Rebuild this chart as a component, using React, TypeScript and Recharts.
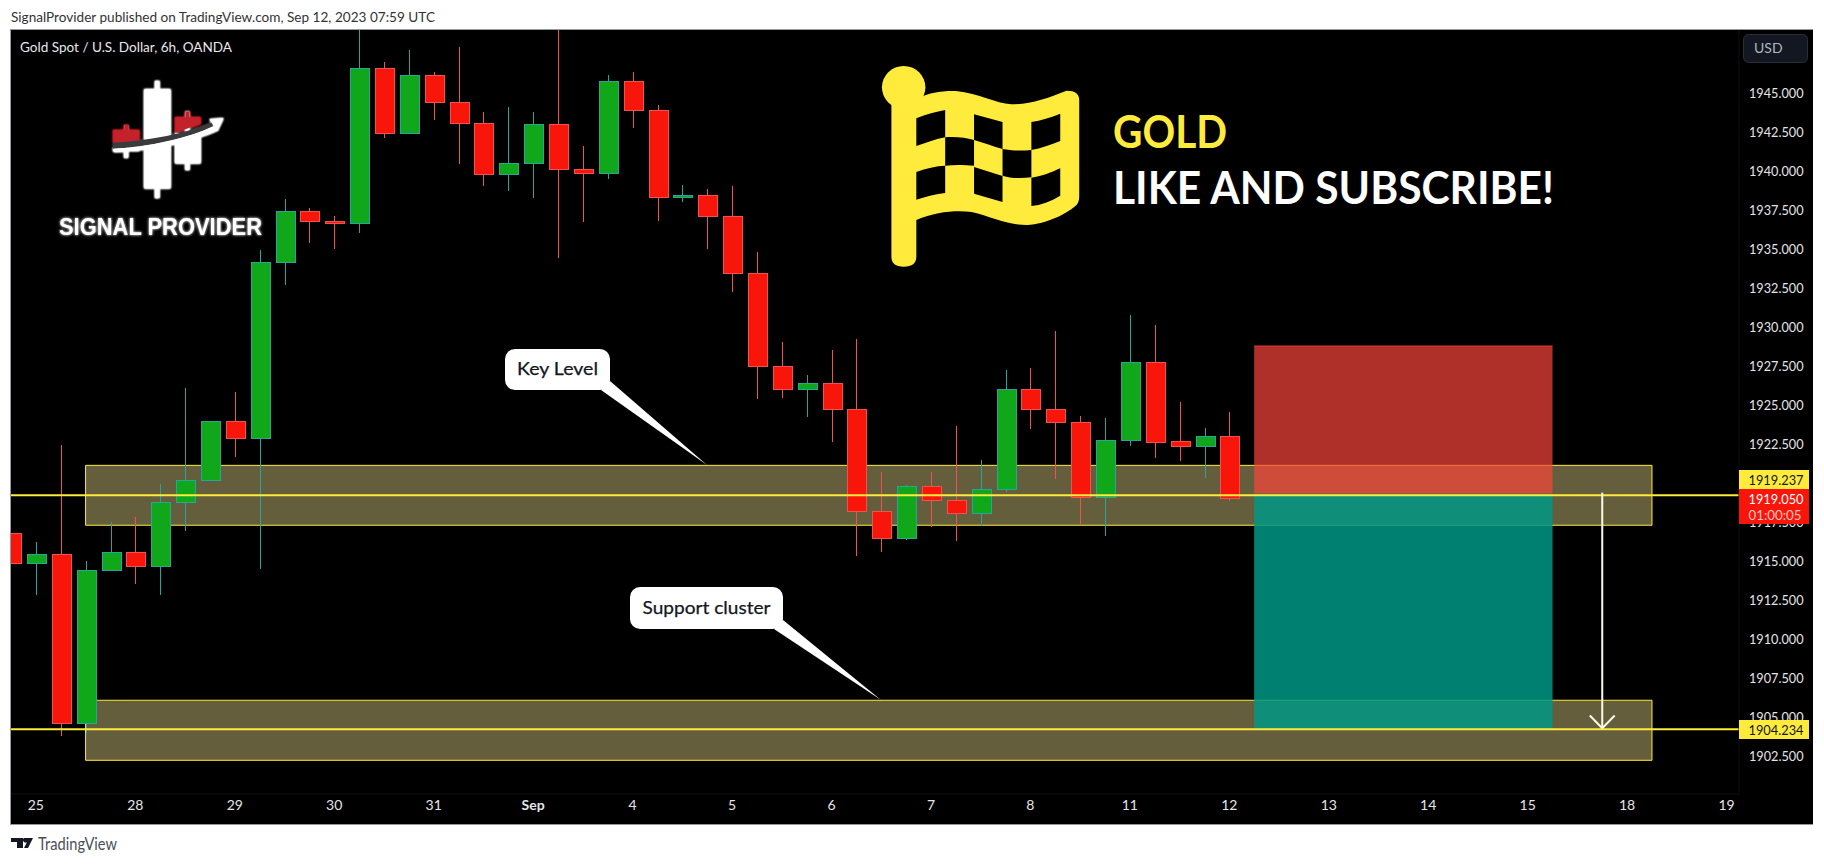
/**
 * XAUUSD 6h candlestick snapshot with key levels and a short position box.
 * Candles are Bars on a numeric index axis; the shape splits body and wick.
 */

import {
  Bar,
  ComposedChart,
  ReferenceArea,
  ReferenceLine,
  XAxis,
  YAxis,
} from 'recharts'

const opens = [
  1916.8, 1914.85, 1915.45, 1904.59, 1914.4, 1915.58, 1914.65, 1918.76, 1920.17, 1923.97,
  1922.86, 1934.14, 1937.44, 1936.8, 1936.64, 1946.6, 1942.41, 1946.15, 1944.42, 1943.08,
  1939.78, 1940.49, 1943.01, 1940.13, 1939.85, 1945.77, 1943.91, 1938.31, 1938.46, 1937.12,
  1933.46, 1927.5, 1926.0, 1926.41, 1924.74, 1918.21, 1916.45, 1919.81, 1918.91, 1918.08,
  1919.62, 1926.03, 1924.74, 1923.91, 1919.1, 1922.73, 1927.76, 1922.65, 1922.35, 1923.01,
]
const highs = [
  1916.8, 1916.24, 1922.44, 1915.0, 1917.52, 1917.84, 1919.96, 1926.09, 1923.97, 1925.83,
  1934.94, 1938.21, 1937.63, 1937.14, 1949.05, 1947.01, 1947.78, 1946.37, 1947.97, 1943.8,
  1944.12, 1943.8, 1949.05, 1941.62, 1946.17, 1946.37, 1944.25, 1939.12, 1938.85, 1939.06,
  1934.83, 1929.06, 1926.94, 1928.55, 1929.25, 1920.72, 1919.91, 1920.72, 1923.67, 1921.47,
  1927.26, 1927.39, 1929.76, 1924.31, 1924.17, 1930.79, 1930.15, 1925.21, 1923.55, 1924.55,
]
const lows = [
  1914.85, 1912.84, 1903.8, 1903.99, 1914.4, 1913.55, 1912.84, 1916.96, 1920.17, 1921.69,
  1914.53, 1932.71, 1935.4, 1935.02, 1936.05, 1942.15, 1942.41, 1943.29, 1940.47, 1939.06,
  1938.74, 1938.29, 1934.44, 1936.75, 1939.51, 1942.78, 1936.81, 1938.03, 1935.02, 1932.26,
  1925.4, 1925.47, 1924.25, 1922.65, 1915.34, 1915.6, 1916.37, 1917.2, 1916.3, 1917.26,
  1919.44, 1923.48, 1920.3, 1917.39, 1916.62, 1922.39, 1921.62, 1921.43, 1920.34, 1918.88,
]
const closes = [
  1914.85, 1915.45, 1904.59, 1914.42, 1915.58, 1914.65, 1918.78, 1920.19, 1923.97, 1922.86,
  1934.17, 1937.44, 1936.77, 1936.67, 1946.6, 1942.41, 1946.15, 1944.4, 1943.05, 1939.78,
  1940.51, 1943.01, 1940.1, 1939.85, 1945.77, 1943.89, 1938.31, 1938.46, 1937.09, 1933.44,
  1927.47, 1926.0, 1926.41, 1924.72, 1918.21, 1916.45, 1919.81, 1918.88, 1918.08, 1919.62,
  1926.03, 1924.72, 1923.88, 1919.1, 1922.76, 1927.76, 1922.6, 1922.35, 1923.01, 1919.01,
]

const dayTicks = [1, 5, 9, 13, 17, 21, 25, 29, 33, 37, 41, 45, 49, 53, 57, 61, 65, 69]
const dayLabels = ['25', '28', '29', '30', '31', 'Sep', '4', '5', '6', '7', '8', '11', '12', '13', '14', '15', '18', '19']
const priceTicks = [
  1902.5, 1905, 1907.5, 1910, 1912.5, 1915, 1917.5, 1920, 1922.5, 1925, 1927.5, 1930, 1932.5,
  1935, 1937.5, 1940, 1942.5, 1945,
]

// horizontal levels and zones, in price
const keyLevels = [1919.237, 1904.234]
const zones = [
  { top: 1921.15, bottom: 1917.31 },
  { top: 1906.09, bottom: 1902.24 },
]
const zoneStart = 3
const zoneEnd = 66
const positionStart = 50
const positionEnd = 62
const stopPrice = 1928.8
const entryPrice = 1919.33
const targetPrice = 1904.2
const arrowX = 64

const candleData = opens.map((open, i) => ({
  index: i,
  open,
  close: closes[i],
  high: highs[i],
  low: lows[i],
  range: [lows[i], highs[i]],
}))

const UP_FILL = '#11a71b'
const UP_EDGE = '#26a69a'
const DOWN_FILL = '#f8150a'
const DOWN_EDGE = '#ef5350'
const YELLOW = '#ffeb3b'
const AXIS_TEXT = '#e4e5e8'
const UI_FONT = 'Lato, "Noto Sans", sans-serif'

function Candle(props: any) {
  const { x, y, width, height, payload } = props
  const { open, close, high, low } = payload
  const perUnit = Math.abs(height) / (high - low)
  const yOf = (v: number) => y + (high - v) * perUnit
  const cx = Math.round(x + width / 2)
  const up = close >= open
  const bodyTop = yOf(Math.max(open, close))
  const bodyBottom = yOf(Math.min(open, close))
  return (
    <g shapeRendering="crispEdges">
      <rect x={cx} y={y} width={1} height={Math.abs(height)} fill={up ? UP_EDGE : DOWN_EDGE} />
      <rect
        x={cx - 9}
        y={bodyTop}
        width={19}
        height={Math.max(bodyBottom - bodyTop, 2)}
        fill={up ? UP_FILL : DOWN_FILL}
        stroke={up ? UP_EDGE : DOWN_EDGE}
        strokeWidth={1}
      />
    </g>
  )
}

function DayTick({ x, y, payload }: any) {
  const label = dayLabels[dayTicks.indexOf(payload.value)]
  return (
    <text
      x={x}
      y={y}
      dy={5}
      textAnchor="middle"
      fill={AXIS_TEXT}
      fontFamily={UI_FONT}
      fontSize={14}
      fontWeight={label === 'Sep' ? 700 : 400}
    >
      {label}
    </text>
  )
}

function PriceTick({ x, y, payload }: any) {
  return (
    <text
      x={x}
      y={y}
      dy={5}
      fill={AXIS_TEXT}
      fontFamily={UI_FONT}
      fontSize={14}
      textLength={54.5}
      lengthAdjust="spacingAndGlyphs"
    >
      {payload.value.toFixed(3)}
    </text>
  )
}

function Logo() {
  // drawn in the crop's coordinates: 620px wide to 1568, 3x high
  return (
    <g transform="scale(0.3954,0.3333)" filter="url(#glow)">
      <rect x={392} y={243} width={11} height={351} fill="#fff" />
      <rect x={365} y={268} width={66} height={297} fill="#fff" />
      <rect x={469} y={335} width={10} height={175} fill="#fff" />
      <rect x={443} y={400} width={64} height={90} fill="#fff" />
      <rect x={469} y={335} width={10} height={20} fill="#c4202b" />
      <path d="M443 352 L507 352 L507 372 L443 398 Z" fill="#c4202b" />
      <rect x={314} y={375} width={10} height={98} fill="#fff" />
      <rect x={286} y={445} width={66} height={8} fill="#fff" />
      <rect x={314} y={375} width={10} height={18} fill="#c4202b" />
      <rect x={286} y={390} width={66} height={36} fill="#c4202b" />
      <path d="M286 428 C380 422 470 400 535 368 L540 380 C470 415 380 440 286 446 Z" fill="#3a3a3e" />
      <path d="M288 446 C380 440 470 418 540 378 L552 390 C480 430 380 452 288 456 Z" fill="#fff" />
      <path d="M530 358 L565 355 L550 392 Z" fill="#fff" />
    </g>
  )
}

function FlagMark() {
  return (
    <g transform="translate(600,0) scale(0.3954,0.3333)">
      <ellipse cx={768} cy={262} rx={55} ry={64} fill={YELLOW} />
      <path
        fill={YELLOW}
        d="M737 310 L737 770 Q737 800 768 800 Q800 800 800 770 L800 660 C850 635 900 630 940 636 C990 650 1030 675 1080 675 C1130 672 1180 640 1200 620 Q1212 610 1212 590 L1212 300 Q1212 272 1180 272 C1130 295 1090 313 1040 313 C1000 310 960 280 900 273 C860 272 830 280 815 290 Z"
      />
      <g fill="#000">
        <path d="M800 355 C825 343 850 335 873 330 L873 412 C850 417 825 428 800 438 Z" />
        <path d="M946 343 L1018 366 L1018 447 C995 440 970 428 946 420 Z" />
        <path d="M1091 366 C1115 362 1140 352 1164 341 L1164 423 C1140 435 1115 445 1091 450 Z" />
        <path d="M873 412 C900 410 925 413 946 420 L946 497 C925 495 900 493 873 497 Z" />
        <path d="M1018 447 C1040 452 1065 453 1091 450 L1091 532 C1065 536 1040 535 1018 527 Z" />
        <path d="M800 516 C825 505 850 498 873 497 L873 579 C850 582 825 590 800 599 Z" />
        <path d="M946 501 L1018 528 L1018 606 L946 581 Z" />
        <path d="M1091 533 C1115 530 1140 518 1164 505 L1164 587 C1140 605 1115 615 1091 618 Z" />
      </g>
    </g>
  )
}

function Callout({ x, y, w, h, tail, label, textW }: any) {
  return (
    <g>
      <polygon points={tail} fill="#fff" />
      <rect x={x} y={y} width={w} height={h} rx={10} fill="#fff" />
      <text
        x={x + w / 2}
        y={y + h / 2 + 5.5}
        textAnchor="middle"
        fontFamily={UI_FONT}
        fontSize={17}
        fill="#131722"
        stroke="#131722"
        strokeWidth={0.25}
        textLength={textW}
        lengthAdjust="spacingAndGlyphs"
      >
        {label}
      </text>
    </g>
  )
}

function PriceTag({ y, h, fill, color, label, sub }: any) {
  return (
    <g fontFamily={UI_FONT} fontSize={14}>
      <rect x={1739} y={y} width={70} height={h} fill={fill} />
      <text x={1776} y={y + 15} textAnchor="middle" fill={color} textLength={55} lengthAdjust="spacingAndGlyphs">
        {label}
      </text>
      {sub && (
        <text x={1775} y={y + 31} textAnchor="middle" fill="#ffc4c0" textLength={53} lengthAdjust="spacingAndGlyphs">
          {sub}
        </text>
      )}
    </g>
  )
}

function Overlay() {
  return (
    <svg width={1824} height={864} style={{ position: 'absolute', left: 0, top: 0, pointerEvents: 'none' }}>
      <defs>
        <filter id="glow" x="-30%" y="-30%" width="160%" height="160%">
          <feGaussianBlur stdDeviation="3" result="b" />
          <feMerge>
            <feMergeNode in="b" />
            <feMergeNode in="b" />
            <feMergeNode in="b" />
            <feMergeNode in="SourceGraphic" />
          </feMerge>
        </filter>
        <filter id="glowText" x="-10%" y="-50%" width="120%" height="200%">
          <feGaussianBlur stdDeviation="1.5" result="b" />
          <feMerge>
            <feMergeNode in="b" />
            <feMergeNode in="SourceGraphic" />
          </feMerge>
        </filter>
      </defs>

      <text x={11} y={22} fontFamily={UI_FONT} fontSize={14} fill="#333" textLength={424} lengthAdjust="spacingAndGlyphs">
        SignalProvider published on TradingView.com, Sep 12, 2023 07:59 UTC
      </text>
      <text x={20} y={52} fontFamily={UI_FONT} fontSize={14} fill="#e8e9ec" textLength={212} lengthAdjust="spacingAndGlyphs">
        Gold Spot / U.S. Dollar, 6h, OANDA
      </text>

      <Logo />
      <text
        x={59}
        y={235}
        fontFamily='"Liberation Sans", sans-serif'
        fontWeight={700}
        fontSize={23.5}
        fill="#fff"
        textLength={203}
        lengthAdjust="spacingAndGlyphs"
        filter="url(#glowText)"
      >
        SIGNAL PROVIDER
      </text>

      <FlagMark />
      <text x={1113} y={148} fontFamily={UI_FONT} fontWeight={700} fontSize={45} fill={YELLOW} textLength={114} lengthAdjust="spacingAndGlyphs">
        GOLD
      </text>
      <text x={1113} y={204} fontFamily={UI_FONT} fontWeight={700} fontSize={45} fill="#fff" textLength={441} lengthAdjust="spacingAndGlyphs">
        LIKE AND SUBSCRIBE!
      </text>

      <Callout x={505} y={349} w={105} h={41} tail="601,390 610,381 707,465" label="Key Level" textW={81} />
      <Callout x={630} y={587} w={153} h={42} tail="774,629 783,620 881,700" label="Support cluster" textW={128} />

      <rect x={1743.5} y={34.5} width={64} height={28} rx={5} fill="#131722" stroke="#2a2e39" />
      <text x={1754} y={53} fontFamily={UI_FONT} fontSize={14} fill="#b2b5be">
        USD
      </text>

      <PriceTag y={470} h={19} fill={YELLOW} color="#131722" label="1919.237" />
      <PriceTag y={489} h={35} fill={DOWN_FILL} color="#fff" label="1919.050" sub="01:00:05" />
      <PriceTag y={720} h={19} fill={YELLOW} color="#131722" label="1904.234" />

      {/* TradingView mark */}
      <path d="M11 838 H23 V848 H17 V842 H11 Z M24 838 H33 L28 848 H24 L27 842 A2 2 0 0 1 24 838 Z" fill="#131722" />
      <text x={38} y={850} fontFamily={UI_FONT} fontSize={17} fill="#4a4e59" textLength={79} lengthAdjust="spacingAndGlyphs">
        TradingView
      </text>
    </svg>
  )
}

export default function App() {
  return (
    <div style={{ position: 'absolute', left: 0, top: 0, width: 1824, height: 864, background: '#fff', overflow: 'hidden' }}>
      <div
        style={{
          position: 'absolute',
          left: 10,
          top: 29,
          width: 1803,
          height: 796,
          background: '#000',
          borderLeft: '1px solid #9598a1',
          borderTop: '1px solid #9598a1',
          borderBottom: '1px solid #9598a1',
          boxSizing: 'border-box',
        }}
      />
      <div style={{ position: 'absolute', left: 0, top: 0 }}>
        <ComposedChart
          width={1824}
          height={864}
          data={candleData}
          margin={{ top: 30, right: 11, bottom: 39, left: 11 }}
        >
          <XAxis
            dataKey="index"
            type="number"
            domain={[0, 69.5]}
            allowDataOverflow
            ticks={dayTicks}
            interval={0}
            height={31}
            tick={<DayTick />}
            tickLine={false}
            tickSize={0}
            tickMargin={11}
            axisLine={{ stroke: '#0f0f0f' }}
          />
          <YAxis
            type="number"
            orientation="right"
            width={74}
            domain={[1900.08, 1949.06]}
            ticks={priceTicks}
            interval={0}
            tick={<PriceTick />}
            tickLine={false}
            tickSize={0}
            tickMargin={10}
            axisLine={{ stroke: '#0f0f0f' }}
          />
          {zones.map((z) => (
            <ReferenceArea
              key={z.top}
              x1={zoneStart}
              x2={zoneEnd}
              y1={z.bottom}
              y2={z.top}
              fill="#645e3c"
              fillOpacity={1}
              stroke={YELLOW}
              strokeWidth={1}
            />
          ))}
          {keyLevels.map((level) => (
            <ReferenceLine key={level} y={level} stroke={YELLOW} strokeWidth={2} />
          ))}
          <ReferenceArea
            x1={positionStart}
            x2={positionEnd}
            y1={entryPrice}
            y2={stopPrice}
            fill="rgb(250,69,57)"
            fillOpacity={0.7}
            stroke="none"
          />
          <ReferenceLine
            segment={[{ x: positionStart, y: stopPrice }, { x: positionEnd, y: stopPrice }]}
            stroke="#e53935"
            strokeWidth={1}
          />
          <ReferenceArea
            x1={positionStart}
            x2={positionEnd}
            y1={targetPrice}
            y2={entryPrice}
            fill="rgb(0,150,132)"
            fillOpacity={0.85}
            stroke="none"
          />
          <Bar dataKey="range" barSize={19} shape={<Candle />} isAnimationActive={false} />
          <ReferenceLine
            segment={[{ x: arrowX, y: 1919.4 }, { x: arrowX, y: 1904.3 }]}
            stroke="#fffbe6"
            strokeWidth={2}
          />
          <ReferenceLine
            segment={[{ x: arrowX - 0.5, y: 1905.11 }, { x: arrowX, y: 1904.3 }]}
            stroke="#fffbe6"
            strokeWidth={2}
          />
          <ReferenceLine
            segment={[{ x: arrowX + 0.5, y: 1905.11 }, { x: arrowX, y: 1904.3 }]}
            stroke="#fffbe6"
            strokeWidth={2}
          />
        </ComposedChart>
      </div>
      <Overlay />
    </div>
  )
}
